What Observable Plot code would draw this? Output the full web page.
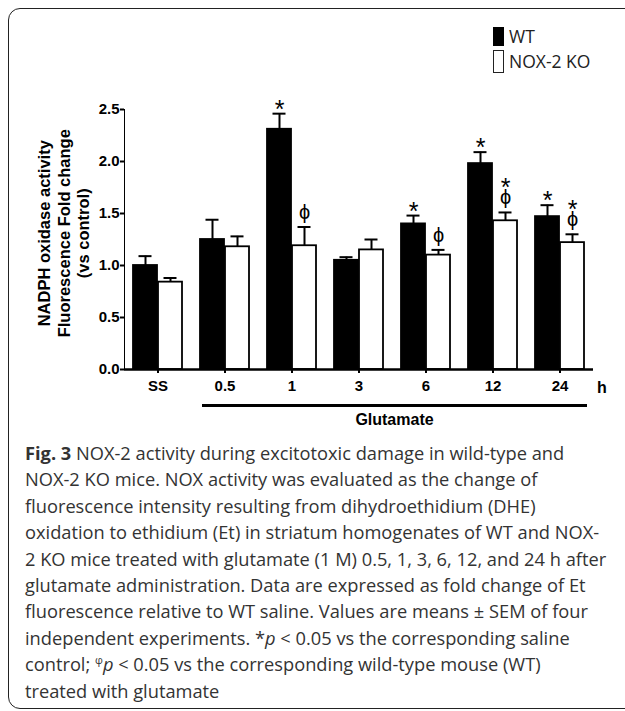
<!DOCTYPE html>
<html>
<head>
<meta charset="utf-8">
<script src="https://cdn.jsdelivr.net/npm/d3@7"></script>
<script src="https://cdn.jsdelivr.net/npm/@observablehq/plot@0.6"></script>
<style>
  html, body { margin: 0; padding: 0; background: #fff; }
  #page { position: relative; width: 625px; height: 711px; overflow: hidden; background: #fff; }
  #frame { position: absolute; left: 8px; top: 8px; width: 700px; height: 701px; border: 1.6px solid #222; border-radius: 12px; box-sizing: border-box; }
  #chart { position: absolute; left: 0; top: 0; }
  .ov { position: absolute; white-space: nowrap; }
  .lab { font-family: Arial, "Liberation Sans", sans-serif; font-weight: bold; font-size: 15px; color: #000; }
  .leg { font-family: "Open Sans", sans-serif; font-size: 17.5px; color: #222; line-height: 22px; }
  #caption { position: absolute; left: 25px; top: 440px; font-family: "Open Sans", sans-serif; font-size: 18.25px; line-height: 26.4px; color: #333; }
  #caption div { white-space: nowrap; }
  #ylab { position: absolute; font-family: Arial, "Liberation Sans", sans-serif; font-weight: bold; font-size: 16.5px; line-height: 19.5px; text-align: center; transform: rotate(-90deg); transform-origin: center center; white-space: nowrap; }
  svg [aria-label="y-axis tick"] path, svg [aria-label="fx-axis tick"] path { stroke-width: 2; }
  svg [aria-label="y-axis line"], svg [aria-label="y-axis"] > path { stroke-width: 2.5; }
</style>
</head>
<body>
<div id="page">
  <div id="frame"></div>
  <div id="chart"></div>
</div>
<script>
// ---- data ----
const cats = ["SS", "0.5", "1", "3", "6", "12", "24"];
const groups = ["WT", "NOX-2 KO"];
const wtMean = [1.00, 1.25, 2.31, 1.05, 1.40, 1.98, 1.47];
const wtSem  = [0.09, 0.19, 0.15, 0.03, 0.08, 0.11, 0.11];
const koMean = [0.84, 1.18, 1.19, 1.15, 1.10, 1.43, 1.22];
const koSem  = [0.04, 0.10, 0.18, 0.10, 0.05, 0.08, 0.08];
const wtStar = [false, false, true, false, true, true, true];
const koStar = [false, false, false, false, false, true, true];
const koPhi  = [false, false, true, false, true, true, true];
const yTicks = [0, 0.5, 1.0, 1.5, 2.0, 2.5];
const glutamateCats = ["0.5", "1", "3", "6", "12", "24"];

const rows = [];
cats.forEach((c, i) => {
  rows.push({cat: c, group: groups[0], mean: wtMean[i], sem: wtSem[i], star: wtStar[i], phi: false});
  rows.push({cat: c, group: groups[1], mean: koMean[i], sem: koSem[i], star: koStar[i], phi: koPhi[i]});
});

// layout
const W = 625, H = 440, mL = 124, mR = 32, mT = 109, mB = 71;

const symFont = "Arial, 'Liberation Sans', sans-serif";
const plot = Plot.plot({
  width: W, height: H,
  marginLeft: mL, marginRight: mR, marginTop: mT, marginBottom: mB,
  style: {fontFamily: "Arial, 'Liberation Sans', sans-serif", fontSize: "15px", fontWeight: "bold", color: "#000", background: "transparent"},
  fx: {domain: cats, padding: 0, label: null, tickSize: 4, tickPadding: 7},
  x: {domain: groups, paddingInner: 0.04, paddingOuter: 0.36, axis: null},
  y: {domain: [0, 2.5], ticks: yTicks, tickFormat: d3.format(".1f"), tickSize: 4, tickPadding: 1, label: null, line: true},
  color: {domain: groups, range: ["#000", "#fff"]},
  marks: [
    Plot.barY(rows, {fx: "cat", x: "group", y: "mean", fill: "group", stroke: "#000", strokeWidth: 1.8}),
    Plot.ruleX(rows, {fx: "cat", x: "group", y1: "mean", y2: d => d.mean + d.sem, stroke: "#000", strokeWidth: 2}),
    Plot.tickY(rows, {fx: "cat", x: "group", y: d => d.mean + d.sem, stroke: "#000", strokeWidth: 2, insetLeft: 5.5, insetRight: 5.5}),
    Plot.ruleY([0], {stroke: "#000", strokeWidth: 2.6}),
    Plot.text(rows.filter(d => d.phi), {fx: "cat", x: "group", y: d => d.mean + d.sem, text: () => "ϕ", dy: -8, lineAnchor: "bottom", fontSize: 20, fontWeight: "normal", fontFamily: symFont, fill: "#000"}),
    Plot.text(rows.filter(d => d.star && !d.phi), {fx: "cat", x: "group", y: d => d.mean + d.sem, text: () => "*", dy: 4, lineAnchor: "bottom", fontSize: 25, fontWeight: "normal", fontFamily: symFont, fill: "#000"}),
    Plot.text(rows.filter(d => d.star && d.phi), {fx: "cat", x: "group", y: d => d.mean + d.sem, text: () => "*", dy: -16, lineAnchor: "bottom", fontSize: 25, fontWeight: "normal", fontFamily: symFont, fill: "#000"})
  ]
});
document.getElementById("chart").appendChild(plot);

// annotations positioned from the same band layout
const fxScale = d3.scaleBand().domain(cats).range([mL, W - mR]).padding(0);
const xScale = d3.scaleBand().domain(groups).range([0, fxScale.bandwidth()]).paddingInner(0.04).paddingOuter(0.36);
const page = document.getElementById("page");
function addDiv(cls, html, style) {
  const d = document.createElement("div");
  d.className = cls; d.innerHTML = html;
  Object.assign(d.style, style);
  page.appendChild(d);
  return d;
}
const g0 = fxScale(glutamateCats[0]) + xScale(groups[0]) + 2;
const g1 = fxScale(glutamateCats[glutamateCats.length - 1]) + xScale(groups[1]) + xScale.bandwidth() + 3;
addDiv("ov", "", {left: g0 + "px", top: "404px", width: (g1 - g0) + "px", height: "2.5px", background: "#000"});
addDiv("ov lab", "Glutamate", {left: ((g0 + g1) / 2) + "px", top: "411px", transform: "translateX(-50%)", fontSize: "16px"});
addDiv("ov lab", "h", {left: "597px", top: "379px", fontSize: "16px"});

// y axis title (three lines)
const yl = addDiv("", "NADPH oxidase activity<br>Fluorescence Fold change<br>(vs control)", {});
yl.id = "ylab";
yl.style.left = (64 - yl.offsetWidth / 2) + "px";
yl.style.top = (233 - yl.offsetHeight / 2) + "px";

// legend
addDiv("ov", "", {left: "493px", top: "27px", width: "11px", height: "19px", background: "#000"});
addDiv("ov", "", {left: "493px", top: "50px", width: "11px", height: "23px", border: "1.5px solid #222", boxSizing: "border-box", background: "#fff"});
addDiv("ov leg", "WT", {left: "509px", top: "25px"});
addDiv("ov leg", "NOX-2 KO", {left: "509px", top: "50px"});

// caption
const cap = addDiv("", [
  "<b>Fig. 3</b> NOX-2 activity during excitotoxic damage in wild-type and",
  "NOX-2 KO mice. NOX activity was evaluated as the change of",
  "fluorescence intensity resulting from dihydroethidium (DHE)",
  "oxidation to ethidium (Et) in striatum homogenates of WT and NOX-",
  "2 KO mice treated with glutamate (1 M) 0.5, 1, 3, 6, 12, and 24 h after",
  "glutamate administration. Data are expressed as fold change of Et",
  "fluorescence relative to WT saline. Values are means ± SEM of four",
  "independent experiments. *<i>p</i> &lt; 0.05 vs the corresponding saline",
  "control; <sup style='font-size:11px;line-height:0'>φ</sup><i>p</i> &lt; 0.05 vs the corresponding wild-type mouse (WT)",
  "treated with glutamate"
].map(s => "<div>" + s + "</div>").join(""), {});
cap.id = "caption";
</script>
</body>
</html>
